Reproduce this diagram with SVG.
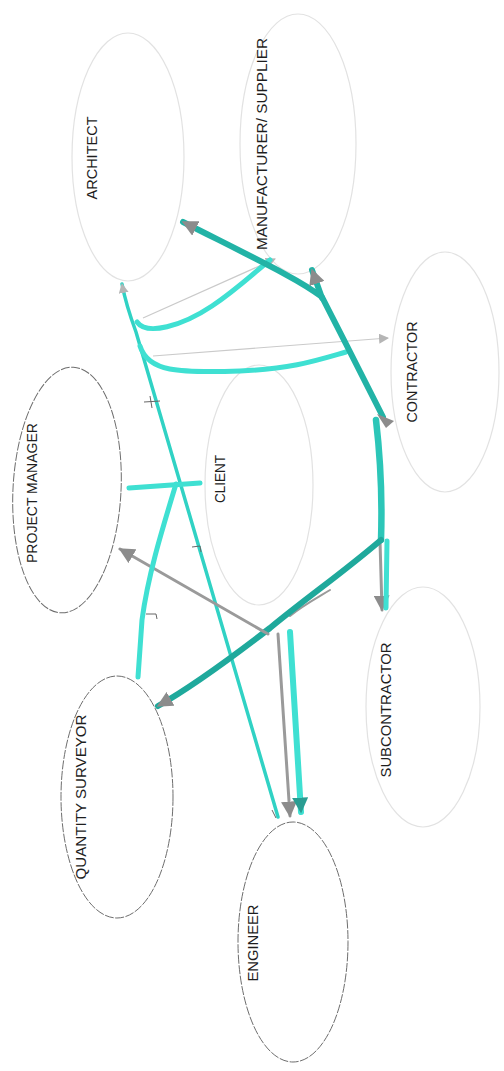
<svg xmlns="http://www.w3.org/2000/svg" width="504" height="1071" viewBox="0 0 504 1071">
<style>
.bg{fill:#ffffff}
.el-l{fill:none;stroke:#e2e2e2;stroke-width:1.2}
.el-d{fill:none;stroke:#6e6e6e;stroke-width:1;stroke-dasharray:9 1.5}
.lbl{font-family:"Liberation Sans",Arial,sans-serif;font-size:14.5px;fill:#1e1e1e;text-anchor:middle}
.cy{fill:none;stroke:#3fe0d2;stroke-width:5;stroke-linecap:round;stroke-linejoin:round}
.cyn{fill:none;stroke:#30d2c4;stroke-width:3.5;stroke-linecap:round}
.tl{fill:none;stroke:#22b3a6;stroke-width:6;stroke-linecap:round;stroke-linejoin:round}
.gr{fill:none;stroke:#9a9a9a;stroke-width:3;stroke-linecap:round}
.th{fill:none;stroke:#cacaca;stroke-width:1.2}
.tk{fill:none;stroke:#666;stroke-width:1}
</style>
<defs>
<marker id="ag" viewBox="0 0 10 10" refX="9" refY="5" markerWidth="16" markerHeight="16" markerUnits="userSpaceOnUse" orient="auto"><path d="M0,0 L10,5 L0,10 z" fill="#8c8c8c"/></marker>
<marker id="as" viewBox="0 0 10 10" refX="9" refY="5" markerWidth="10" markerHeight="10" markerUnits="userSpaceOnUse" orient="auto"><path d="M0,0 L10,5 L0,10 z" fill="#b5b5b5"/></marker>
<marker id="at" viewBox="0 0 10 10" refX="9" refY="5" markerWidth="16" markerHeight="16" markerUnits="userSpaceOnUse" orient="auto"><path d="M0,0 L10,5 L0,10 z" fill="#2a9d92"/></marker>
</defs>
<rect class="bg" x="0" y="0" width="504" height="1071"/>

<g id="architect"><ellipse class="el-l" cx="128" cy="157" rx="56" ry="124"/><text class="lbl" transform="translate(97,158) rotate(-90)" textLength="83" lengthAdjust="spacingAndGlyphs">ARCHITECT</text></g>
<g id="manufacturer"><ellipse class="el-l" cx="298" cy="144" rx="58" ry="130"/><text class="lbl" transform="translate(267,144) rotate(-90)" textLength="212" lengthAdjust="spacingAndGlyphs">MANUFACTURER/ SUPPLIER</text></g>
<g id="contractor"><ellipse class="el-l" cx="445" cy="372" rx="54" ry="120"/><text class="lbl" transform="translate(417,372) rotate(-90)" textLength="101" lengthAdjust="spacingAndGlyphs">CONTRACTOR</text></g>
<g id="client"><ellipse class="el-l" cx="259" cy="485" rx="54" ry="120"/><text class="lbl" transform="translate(225,479) rotate(-90)" textLength="48" lengthAdjust="spacingAndGlyphs">CLIENT</text></g>
<g id="project-manager"><ellipse class="el-d" cx="67" cy="490" rx="54" ry="123" transform="rotate(3 67 490)"/><text class="lbl" transform="translate(37,493) rotate(-90)" textLength="140" lengthAdjust="spacingAndGlyphs">PROJECT MANAGER</text></g>
<g id="subcontractor"><ellipse class="el-l" cx="423" cy="707" rx="57" ry="120"/><text class="lbl" transform="translate(391,710) rotate(-90)" textLength="135" lengthAdjust="spacingAndGlyphs">SUBCONTRACTOR</text></g>
<g id="quantity-surveyor"><ellipse class="el-d" cx="117" cy="797" rx="56" ry="121"/><text class="lbl" transform="translate(86,797) rotate(-90)" textLength="165" lengthAdjust="spacingAndGlyphs">QUANTITY SURVEYOR</text></g>
<g id="engineer"><ellipse class="el-d" cx="293" cy="942" rx="55" ry="120"/><text class="lbl" transform="translate(258,943) rotate(-90)" textLength="77" lengthAdjust="spacingAndGlyphs">ENGINEER</text></g>

<g id="connectors">
<path class="th" d="M143,318 L275,259" marker-end="url(#as)"/>
<path class="th" d="M153,356 L388,338" marker-end="url(#as)"/>
<path class="cyn" d="M278,817 L136,332 Q126,305 122,284" marker-end="url(#as)"/>
<path class="cy" d="M137,322 C147,336 182,326 212,306 C236,290 255,272 270,260"/>
<path class="cy" d="M140,346 C148,372 178,373 240,371 C292,369 318,360 346,352"/>
<path class="tl" d="M383,417 L346,344 L322,297 C300,280 262,262 183,222" marker-end="url(#ag)"/>
<path class="tl" d="M322,298 L312,270" marker-end="url(#ag)"/>
<path d="M377,414 L394,421 L386,428 z" fill="#8c8c8c"/>
<path class="tl" style="stroke:#2cc6b8;stroke-width:6.5" d="M376,420 Q383,480 381,540"/>
<path class="gr" d="M380,541 L382,610" marker-end="url(#ag)"/>
<path class="cy" d="M387,541 L386,608"/>
<path class="gr" style="stroke-width:2" d="M330,590 C315,599 302,606 290,616"/>
<path class="tl" style="stroke:#1fa99c" d="M381,540 C340,575 310,595 270,628 C235,655 195,685 158,706" marker-end="url(#ag)"/>
<path class="gr" d="M268,634 L120,549" marker-end="url(#ag)"/>
<path class="gr" d="M278,634 L290,816" marker-end="url(#ag)"/>
<path class="cy" style="stroke-width:6" d="M290,632 L301,812" marker-end="url(#at)"/>
<path class="cy" d="M129,488 L200,483"/>
<path class="cy" d="M176,484 C162,530 148,575 142,620 L138,677"/>
<path class="tk" d="M144,402 L160,401 M150,396 L152,408"/>
<path class="tk" d="M192,547 L200,546 L201,552"/>
<path class="tk" d="M146,614 L156,614 L157,619"/>
<path class="tk" d="M272,810 L276,818"/>
</g>
</svg>
